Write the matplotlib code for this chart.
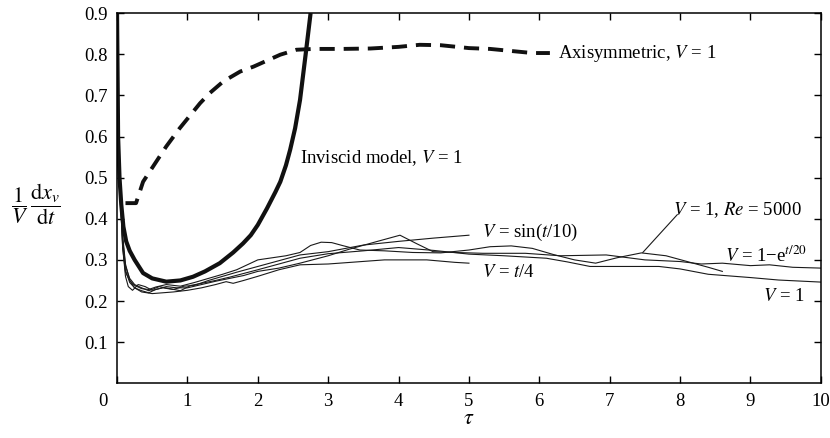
import matplotlib
matplotlib.use("Agg")
import matplotlib.pyplot as plt
from matplotlib.transforms import ScaledTranslation

plt.rcParams['font.family'] = ['Liberation Serif', 'DejaVu Serif']
plt.rcParams['mathtext.fontset'] = 'stix'

# Inviscid model, V = 1 (thick solid)
inv_x = [0.0, 0.015, 0.035, 0.06, 0.09, 0.13, 0.18, 0.25, 0.37, 0.5, 0.7, 0.9, 1.08, 1.25,
         1.46, 1.65, 1.79, 1.9, 2.0, 2.13, 2.25, 2.32, 2.4, 2.46, 2.53, 2.6, 2.68, 2.75]
inv_y = [0.9, 0.6, 0.5, 0.435, 0.381, 0.345, 0.322, 0.3, 0.268, 0.255, 0.247, 0.25, 0.259, 0.272,
         0.292, 0.318, 0.34, 0.36, 0.385, 0.425, 0.465, 0.49, 0.53, 0.568, 0.62, 0.689, 0.80, 0.9]

# Axisymmetric, V = 1 (thick dashed)
axi_x = [0.12, 0.27, 0.37, 0.5, 0.7, 0.89, 1.18, 1.32, 1.51, 1.75, 1.94, 2.32, 2.55, 2.8,
         3.2, 3.6, 4.0, 4.3, 4.6, 5.0, 5.3, 5.6, 5.9, 6.15]
axi_y = [0.438, 0.438, 0.49, 0.524, 0.576, 0.62, 0.681, 0.706, 0.734, 0.758, 0.770, 0.799, 0.811, 0.813,
         0.813, 0.814, 0.818, 0.823, 0.822, 0.815, 0.813, 0.808, 0.803, 0.803]

# V = t/4
t4_x = [0.05, 0.08, 0.12, 0.18, 0.25, 0.35, 0.5, 0.65, 0.8, 1.0, 1.2, 1.4, 1.55, 1.65, 1.8,
        2.0, 2.3, 2.6, 3.0, 3.4, 3.8, 4.4, 4.8, 5.0]
t4_y = [0.47, 0.36, 0.29, 0.25, 0.232, 0.222, 0.218, 0.22, 0.222, 0.226, 0.232, 0.24, 0.247, 0.243, 0.25,
        0.26, 0.276, 0.288, 0.29, 0.295, 0.30, 0.30, 0.294, 0.292]

# V = sin(t/10)
sin_x = [0.05, 0.08, 0.12, 0.16, 0.22, 0.3, 0.4, 0.5, 0.65, 0.8, 0.95, 1.1, 1.3, 1.5, 1.7,
         2.0, 2.3, 2.6, 3.0, 3.5, 4.0, 4.5, 5.0]
sin_y = [0.45, 0.33, 0.26, 0.235, 0.226, 0.24, 0.235, 0.226, 0.232, 0.228, 0.236, 0.238, 0.25, 0.26, 0.27,
         0.284, 0.298, 0.312, 0.32, 0.336, 0.345, 0.353, 0.36]

# V = 1
v1_x = [0.05, 0.08, 0.12, 0.18, 0.25, 0.35, 0.45, 0.6, 0.75, 0.9, 1.05, 1.2, 1.4, 1.6, 1.8,
        2.0, 2.3, 2.6, 3.0, 3.5, 4.0, 4.5, 5.0, 5.5, 6.1, 6.4, 6.72, 7.2, 7.7, 8.0, 8.4,
        9.0, 9.4, 10.0]
v1_y = [0.46, 0.35, 0.285, 0.255, 0.24, 0.232, 0.225, 0.235, 0.23, 0.225, 0.238, 0.243, 0.25, 0.258, 0.267,
        0.276, 0.29, 0.304, 0.315, 0.322, 0.33, 0.323, 0.314, 0.31, 0.304, 0.295, 0.284, 0.284, 0.284, 0.278, 0.265,
        0.257, 0.251, 0.246]

# V = 1 - e^(t/20)
exp_x = [0.05, 0.08, 0.12, 0.18, 0.25, 0.35, 0.45, 0.55, 0.7, 0.85, 1.0, 1.2, 1.4, 1.6, 1.8,
         2.0, 2.3, 2.6, 3.0, 3.3, 3.7, 4.02, 4.25, 4.49, 4.8, 5.2, 5.8, 6.3, 6.95, 7.5,
         8.0, 8.3, 8.6, 9.0, 9.27, 9.6, 10.0]
exp_y = [0.45, 0.34, 0.275, 0.245, 0.232, 0.225, 0.22, 0.228, 0.235, 0.232, 0.232, 0.24, 0.248, 0.255, 0.262,
         0.272, 0.28, 0.292, 0.31, 0.326, 0.345, 0.36, 0.34, 0.32, 0.318, 0.316, 0.316, 0.31, 0.312, 0.30,
         0.296, 0.29, 0.292, 0.286, 0.288, 0.282, 0.28]

# V = 1, Re = 5000
re_x = [0.05, 0.08, 0.12, 0.18, 0.25, 0.35, 0.45, 0.55, 0.7, 0.9, 1.1, 1.3, 1.5, 1.7, 2.0,
        2.2, 2.4, 2.6, 2.75, 2.9, 3.05, 3.2, 3.45, 3.8, 4.2, 4.6, 5.0, 5.3, 5.6, 5.9,
        6.2, 6.5, 6.8, 7.1, 7.45, 7.8, 8.1, 8.4, 8.6]
re_y = [0.44, 0.33, 0.27, 0.25, 0.238, 0.23, 0.228, 0.234, 0.24, 0.236, 0.245, 0.255, 0.265, 0.276, 0.30,
        0.305, 0.31, 0.318, 0.335, 0.343, 0.342, 0.335, 0.324, 0.322, 0.318, 0.317, 0.324, 0.332, 0.334, 0.328,
        0.313, 0.30, 0.292, 0.305, 0.317, 0.31, 0.296, 0.282, 0.272]

fig = plt.figure(figsize=(8.3, 4.38), dpi=100)
ax = fig.add_axes([0.141, 0.125, 0.848, 0.845])

thin = dict(color='#1a1a1a', lw=0.8)
for xs, ys in [(t4_x, t4_y), (sin_x, sin_y), (v1_x, v1_y), (exp_x, exp_y), (re_x, re_y)]:
    ax.plot(xs, ys, **thin)

ax.plot(inv_x, inv_y, color='#111111', lw=3.0, solid_capstyle='butt')
ax.plot(axi_x, axi_y, color='#111111', lw=2.8, dashes=(3.9, 2.3), dash_capstyle='butt')

ax.set_xlim(0, 10)
ax.set_ylim(0, 0.9)
ax.set_xticks(range(0, 11))
ax.set_yticks([0.1 * i for i in range(1, 10)])
ax.set_yticklabels(['%.1f' % (0.1 * i) for i in range(1, 10)])
ax.tick_params(direction='in', length=5, width=1.0, top=True, right=True,
               labelsize=13.5, pad=7)
for sp in ax.spines.values():
    sp.set_linewidth(1.1)

# shared origin: nudge the x "0" label to the left
zero_lab = ax.get_xticklabels()[0]
zero_lab.set_transform(zero_lab.get_transform() + ScaledTranslation(-0.14, 0, fig.dpi_scale_trans))

# labels on the curves
fs = 13.5
ax.text(6.27, 0.803, 'Axisymmetric, $V$ = 1', fontsize=fs, va='center', ha='left')
ax.text(2.6, 0.548, 'Inviscid model, $V$ = 1', fontsize=fs, va='center', ha='left')
ax.text(5.18, 0.357, '$V$ = sin($t$/10)', fontsize=fs, va='baseline', ha='left')
ax.text(5.18, 0.258, '$V$ = $t$/4', fontsize=fs, va='baseline', ha='left')
ax.text(8.64, 0.296, '$V$ = 1\u2212e$^{t/20}$', fontsize=fs, va='baseline', ha='left')
ax.text(9.18, 0.200, '$V$ = 1', fontsize=fs, va='baseline', ha='left')
ax.text(7.9, 0.41, '$V$ = 1, $Re$ = 5000', fontsize=fs, va='baseline', ha='left')
ax.plot([7.47, 7.96], [0.318, 0.41], color='#1a1a1a', lw=0.8)

ax.set_xlabel(r'$\tau$', fontsize=16, labelpad=0)
fig.text(36 / 830, 1 - 204 / 438,
         r'$\dfrac{1}{V}\,\dfrac{\mathrm{d}x_v}{\mathrm{d}t}$',
         fontsize=16, ha='center', va='center')

fig.savefig('out.png', dpi=100)
